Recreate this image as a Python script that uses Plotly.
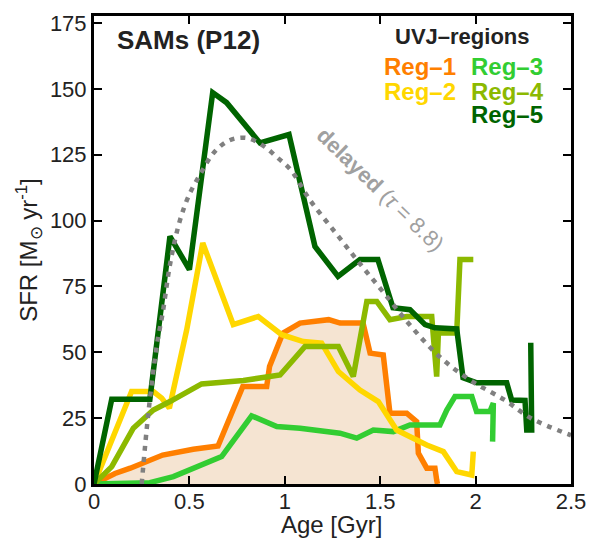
import plotly.graph_objects as go

# Reg-1 (orange, filled)
reg1_x = [0, 0.11, 0.19, 0.26, 0.36, 0.52, 0.65, 0.78, 0.905, 0.92, 0.99, 1.08, 1.23, 1.29, 1.41, 1.447, 1.516, 1.551, 1.639, 1.691, 1.70, 1.744, 1.787, 1.796, 1.80]
reg1_y = [0, 4, 6, 7.9, 11, 13.2, 14.4, 37, 37, 44.6, 57.3, 61.1, 62.4, 61.1, 61.1, 49.7, 49, 26.9, 26.9, 23.7, 11.7, 6, 6, 1.5, 0]
# Reg-2 (yellow)
reg2_x = [0, 0.197, 0.311, 0.355, 0.395, 0.486, 0.57, 0.73, 0.861, 0.984, 1.097, 1.193, 1.281, 1.394, 1.49, 1.586, 1.744, 1.831, 1.901, 1.98, 1.988]
reg2_y = [0, 35.1, 35.1, 32.6, 28.8, 58.6, 91.5, 60.5, 63.6, 56.7, 54.1, 53.5, 42.7, 35.7, 31.3, 20.5, 14.8, 12.3, 4.7, 3.4, 12.3]
# Reg-3 (light green)
reg3_x = [0, 0.293, 0.416, 0.669, 0.826, 0.958, 1.08, 1.289, 1.377, 1.464, 1.569, 1.656, 1.813, 1.849, 1.892, 1.98, 2.005, 2.075, 2.093, 2.089]
reg3_y = [0, 0.5, 2.8, 10.4, 25.9, 21.8, 21.2, 19.3, 17.4, 20.5, 19.9, 22.4, 22.4, 28.1, 33.2, 33.2, 27.5, 27.5, 30.7, 16.1]
# Reg-4 (olive)
reg4_x = [0, 0.093, 0.206, 0.311, 0.398, 0.564, 0.783, 0.922, 0.975, 1.106, 1.281, 1.359, 1.43, 1.482, 1.551, 1.639, 1.77, 1.796, 1.805, 1.901, 1.918, 1.988]
reg4_y = [0, 6.6, 21.2, 28.1, 31.3, 38, 39.3, 40.8, 41.4, 52.2, 52.2, 40.8, 69.3, 69.3, 62.4, 63.6, 63.6, 40.8, 57.3, 57.3, 85.2, 85.2]
# Reg-5 (dark green)
reg5_x = [0, 0.093, 0.293, 0.398, 0.5, 0.622, 0.695, 0.87, 1.022, 1.158, 1.279, 1.394, 1.488, 1.567, 1.656, 1.735, 1.787, 1.901, 1.934, 2.006, 2.163, 2.189, 2.259, 2.268, 2.294, 2.289]
reg5_y = [0, 32.2, 32.2, 94.0, 81.4, 148.6, 144.8, 129.5, 132.7, 90.2, 78.8, 85.2, 85.2, 66.9, 66.2, 60.5, 59.3, 58.9, 40.3, 38.4, 38.4, 31.9, 31.7, 20.5, 20.5, 53.6]
# delayed model (dotted)
del_x = [0.25, 0.285, 0.33, 0.36, 0.40, 0.45, 0.50, 0.56, 0.63, 0.71, 0.80, 0.89, 0.96, 1.03, 1.13, 1.27, 1.39, 1.52, 1.66, 1.81, 1.97, 2.15, 2.29, 2.50]
del_y = [0, 27, 53, 65, 84, 100, 110, 118, 126, 130.5, 131.4, 128.3, 124, 119.4, 108, 95, 84, 72.5, 60, 48.4, 39.5, 32, 25, 18.5]

x_ticks = [0, 0.5, 1, 1.5, 2, 2.5]
x_labels = ["0", "0.5", "1", "1.5", "2", "2.5"]
y_ticks = [0, 25, 50, 75, 100, 125, 150, 175]

C1, C2, C3, C4, C5 = "rgb(255,127,0)", "rgb(255,215,0)", "rgb(50,205,50)", "rgb(140,185,0)", "rgb(0,100,0)"
W = 5.5
f = "Liberation Sans, Arial"

fig = go.Figure()
fig.add_trace(go.Scatter(x=reg1_x, y=reg1_y, mode="lines", fill="tozeroy",
                         fillcolor="rgb(245,228,210)", line=dict(color=C1, width=W)))
fig.add_trace(go.Scatter(x=reg3_x, y=reg3_y, mode="lines", line=dict(color=C3, width=W)))
fig.add_trace(go.Scatter(x=reg2_x, y=reg2_y, mode="lines", line=dict(color=C2, width=W)))
fig.add_trace(go.Scatter(x=reg4_x, y=reg4_y, mode="lines", line=dict(color=C4, width=W)))
fig.add_trace(go.Scatter(x=reg5_x, y=reg5_y, mode="lines", line=dict(color=C5, width=W)))
fig.add_trace(go.Scatter(x=del_x, y=del_y, mode="lines",
                         line=dict(color="rgb(128,128,128)", width=4.5, dash="5px,6px", shape="spline")))

ax = dict(showline=True, linewidth=3, linecolor="black", mirror="ticks", ticks="inside",
          ticklen=8, tickwidth=2, tickcolor="black", showgrid=False, zeroline=False,
          automargin=False, tickfont=dict(family=f, size=22, color="#222"))
fig.update_xaxes(range=[0, 2.5], tickvals=x_ticks, ticktext=x_labels, ticklabelstandoff=-4, **ax)
fig.update_yaxes(range=[0, 177.7], tickvals=y_ticks,
                 title=dict(text="SFR [M<sub>⊙</sub> yr<sup>-1</sup>]", font=dict(family=f, size=24, color="#222"), standoff=6), **ax)


def px2paper(px, py):
    return (px - 94) / (571 - 94), (484 - py) / (484 - 16)


texts = [
    ("<b>UVJ–regions</b>", 462, 37, 22, "#222", "center"),
    ("<b>Reg–1</b>", 419.5, 67, 24, C1, "center"),
    ("<b>Reg–3</b>", 507, 67, 24, C3, "center"),
    ("<b>Reg–2</b>", 419.5, 91, 24, C2, "center"),
    ("<b>Reg–4</b>", 507, 91, 24, C4, "center"),
    ("<b>Reg–5</b>", 507, 114, 24, C5, "center"),
    ("<b>SAMs (P12)</b>", 116, 40, 26, "#222", "left"),
    ("Age [Gyr]", 331.5, 524, 24, "#222", "center"),
]
annotations = []
for t, px, py, sz, col, anc in texts:
    xx, yy = px2paper(px, py)
    annotations.append(dict(x=xx, y=yy, xref="paper", yref="paper", text=t, showarrow=False,
                            xanchor=anc, yanchor="middle", borderpad=0,
                            font=dict(family=f, size=sz, color=col)))
annotations.append(dict(x=1.5, y=111.8, text="<b>delayed</b> (<i>τ</i> = 8.8)", textangle=44, showarrow=False,
                        font=dict(family=f, size=22, color="rgb(160,160,160)")))

fig.update_layout(width=598, height=540, margin=dict(l=94, r=27, t=16, b=56, autoexpand=False),
                  paper_bgcolor="white", plot_bgcolor="white", showlegend=False,
                  annotations=annotations)
fig.write_html("out.html")
